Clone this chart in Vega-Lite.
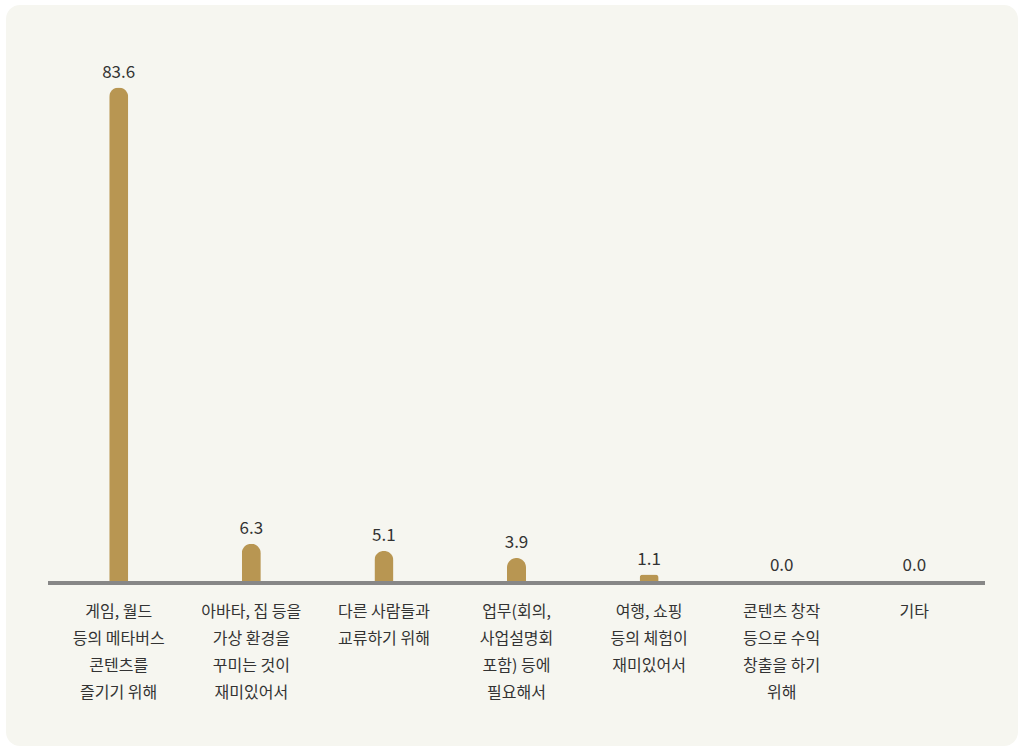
{
  "$schema": "https://vega.github.io/schema/vega-lite/v6.json",
  "width": 1012,
  "height": 741,
  "autosize": {"type": "none"},
  "padding": {"left": 6, "top": 5, "right": 0, "bottom": 0},
  "background": "#ffffff",
  "config": {
    "view": {"fill": "#f6f6f0", "stroke": null, "cornerRadius": 14},
    "font": "Noto Sans CJK KR"
  },
  "data": {
    "values": [
      {"label": "게임, 월드\n등의 메타버스\n콘텐츠를\n즐기기 위해", "value": 83.6},
      {"label": "아바타, 집 등을\n가상 환경을\n꾸미는 것이\n재미있어서", "value": 6.3},
      {"label": "다른 사람들과\n교류하기 위해", "value": 5.1},
      {"label": "업무(회의,\n사업설명회\n포함) 등에\n필요해서", "value": 3.9},
      {"label": "여행, 쇼핑\n등의 체험이\n재미있어서", "value": 1.1},
      {"label": "콘텐츠 창작\n등으로 수익\n창출을 하기\n위해", "value": 0.0},
      {"label": "기타", "value": 0.0}
    ]
  },
  "layer": [
    {
      "layer": [
        {
          "mark": {"type": "bar", "color": "#b89652", "cornerRadiusTopLeft": 9.5, "cornerRadiusTopRight": 9.5},
          "encoding": {
            "x": {
              "field": "label", "type": "nominal", "sort": null,
              "scale": {"range": [42, 979], "paddingInner": 0.8567, "paddingOuter": 0.4615},
              "axis": {
                "title": null, "domain": false, "ticks": false, "grid": false,
                "labelAngle": 0, "labelFontSize": 16, "labelColor": "#333333",
                "labelLineHeight": 27, "labelPadding": 22, "labelBaseline": "top",
                "offset": -165, "labelExpr": "split(datum.label, '\\n')",
                "labelFont": "Noto Sans CJK KR", "labelLimit": 300,
                "labelOverlap": false, "labelBound": false
              }
            },
            "y": {
              "field": "value", "type": "quantitative",
              "scale": {"domain": [0, 83.6], "range": [576, 82.5], "nice": false, "zero": true},
              "axis": null
            }
          }
        },
        {
          "mark": {"type": "text", "dy": -10, "baseline": "alphabetic", "fontSize": 17, "color": "#333333", "font": "Noto Sans CJK KR"},
          "encoding": {
            "x": {"field": "label", "type": "nominal", "sort": null},
            "y": {"field": "value", "type": "quantitative"},
            "text": {"field": "value", "type": "quantitative", "format": ".1f"}
          }
        }
      ]
    },
    {
      "data": {"values": [{}]},
      "mark": {"type": "rule", "color": "#878787", "strokeWidth": 4, "yOffset": 2},
      "encoding": {
        "x": {"datum": 0, "type": "quantitative", "scale": {"domain": [0, 1], "range": [42, 979]}, "axis": null},
        "x2": {"datum": 1},
        "y": {"datum": 0, "type": "quantitative"}
      }
    }
  ],
  "resolve": {"scale": {"x": "independent"}}
}
